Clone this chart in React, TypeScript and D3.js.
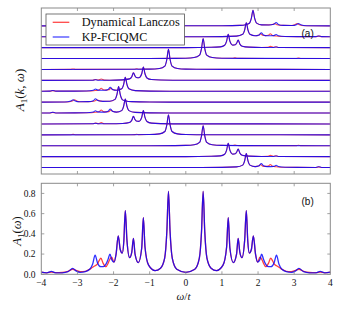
import React from "react";
import * as d3 from "d3";

type Pt = [number, number];

// ---------- axis ticks ----------
const omegaTicks = [-4, -3, -2, -1, 0, 1, 2, 3, 4];
const avgTicks = [0, 0.2, 0.4, 0.6, 0.8];

// ---------- panel (a): A1(k, ω) for each k (KP-FCIQMC = kp, Dynamical Lanczos = lz) ----------
const kpK0: Pt[] = [[-4,0.05],[-2,0.05],[0,0.06],[1,0.1],[1.5,0.2],[1.66,0.4],[1.76,0.85],[1.815,2.45],[1.86,4.9],[1.905,2.45],[1.96,0.9],[2.1,0.35],[2.3,0.3],[2.44,0.55],[2.5,1.1],[2.56,0.5],[2.7,0.2],[2.95,0.15],[3.06,0.4],[3.12,0.8],[3.18,0.4],[3.35,0.1],[4,0.05]];
const lzK0: Pt[] = [[-4,0.05],[-2,0.05],[0,0.06],[1,0.1],[1.5,0.2],[1.66,0.4],[1.76,0.85],[1.815,2.45],[1.86,4.9],[1.905,2.45],[1.96,0.9],[2.1,0.35],[2.3,0.35],[2.4,0.45],[2.46,0.8],[2.52,0.4],[2.7,0.2],[2.92,0.15],[3.02,0.4],[3.08,0.8],[3.14,0.4],[3.3,0.1],[4,0.05]];

const kpK1: Pt[] = [[-4,0.05],[0,0.06],[1,0.1],[1.4,0.25],[1.575,0.8],[1.63,2.2],[1.675,4.4],[1.72,2.2],[1.775,0.8],[1.92,0.35],[2.03,0.6],[2.09,1.3],[2.15,0.6],[2.25,0.35],[2.35,0.35],[2.44,0.4],[2.5,0.75],[2.56,0.35],[2.75,0.12],[3.6,0.08],[3.68,0.3],[3.76,0.08],[4,0.05]];
const lzK1: Pt[] = [[-4,0.05],[0,0.06],[1,0.1],[1.4,0.25],[1.575,0.8],[1.63,2.2],[1.675,4.4],[1.72,2.2],[1.775,0.8],[1.92,0.35],[2.01,0.5],[2.07,1.0],[2.13,0.5],[2.21,0.4],[2.28,0.5],[2.34,1.0],[2.4,0.45],[2.5,0.3],[2.7,0.12],[3.6,0.08],[3.68,0.25],[3.76,0.08],[4,0.05]];

const kpK2: Pt[] = [[-4,0.05],[0,0.07],[0.7,0.15],[0.95,0.3],[1.075,0.8],[1.13,2.1],[1.175,4.2],[1.22,2.1],[1.3,0.85],[1.37,0.95],[1.405,1.4],[1.45,2.4],[1.495,1.2],[1.56,0.5],[1.75,0.2],[2.1,0.1],[2.42,0.1],[2.5,0.25],[2.58,0.1],[4,0.05]];
const lzK2: Pt[] = [[-4,0.05],[0,0.07],[0.7,0.15],[0.95,0.3],[1.075,0.8],[1.13,2.1],[1.175,4.2],[1.22,2.1],[1.3,0.85],[1.37,0.95],[1.405,1.4],[1.45,2.4],[1.495,1.2],[1.56,0.5],[1.75,0.2],[2.1,0.1],[2.26,0.12],[2.34,0.45],[2.42,0.15],[2.5,0.3],[2.58,0.1],[4,0.05]];

const kpK3: Pt[] = [[-4,0.05],[-1,0.07],[-0.3,0.1],[0,0.15],[0.23,0.35],[0.38,1.1],[0.435,3.15],[0.48,6.3],[0.525,3.15],[0.58,1.1],[0.73,0.35],[1.0,0.15],[1.5,0.1],[4,0.05]];
const lzK3: Pt[] = [[-4,0.05],[-1,0.07],[-0.3,0.1],[0,0.15],[0.23,0.35],[0.38,1.1],[0.435,3.15],[0.48,6.3],[0.525,3.15],[0.58,1.1],[0.73,0.35],[1.0,0.15],[1.3,0.12],[1.36,0.25],[1.42,0.12],[1.5,0.1],[3.05,0.08],[3.12,0.2],[3.19,0.08],[4,0.05]];

const kpK4: Pt[] = [[-4,0.05],[-1.5,0.1],[-1.0,0.15],[-0.73,0.35],[-0.58,1.1],[-0.525,3.15],[-0.48,6.3],[-0.435,3.15],[-0.38,1.1],[-0.23,0.35],[0,0.15],[0.3,0.1],[1,0.07],[4,0.05]];
const lzK4: Pt[] = [[-4,0.05],[-3.19,0.08],[-3.12,0.2],[-3.05,0.08],[-1.5,0.1],[-1.42,0.12],[-1.36,0.25],[-1.3,0.12],[-1.0,0.15],[-0.73,0.35],[-0.58,1.1],[-0.525,3.15],[-0.48,6.3],[-0.435,3.15],[-0.38,1.1],[-0.23,0.35],[0,0.15],[0.3,0.1],[1,0.07],[4,0.05]];

const kpK5: Pt[] = [[-4,0.05],[-2.58,0.1],[-2.5,0.25],[-2.42,0.1],[-2.1,0.1],[-1.75,0.2],[-1.56,0.5],[-1.495,1.2],[-1.45,2.4],[-1.405,1.4],[-1.37,0.95],[-1.3,0.85],[-1.22,2.1],[-1.175,4.2],[-1.13,2.1],[-1.075,0.8],[-0.95,0.3],[-0.7,0.15],[0,0.07],[4,0.05]];
const lzK5: Pt[] = [[-4,0.05],[-2.58,0.1],[-2.5,0.3],[-2.42,0.15],[-2.34,0.45],[-2.26,0.12],[-2.1,0.1],[-1.75,0.2],[-1.56,0.5],[-1.495,1.2],[-1.45,2.4],[-1.405,1.4],[-1.37,0.95],[-1.3,0.85],[-1.22,2.1],[-1.175,4.2],[-1.13,2.1],[-1.075,0.8],[-0.95,0.3],[-0.7,0.15],[0,0.07],[4,0.05]];

const kpK6: Pt[] = [[-4,0.05],[-3.76,0.08],[-3.68,0.3],[-3.6,0.08],[-2.75,0.12],[-2.56,0.35],[-2.5,0.75],[-2.44,0.4],[-2.35,0.35],[-2.25,0.35],[-2.15,0.6],[-2.09,1.3],[-2.03,0.6],[-1.92,0.35],[-1.775,0.8],[-1.72,2.2],[-1.675,4.4],[-1.63,2.2],[-1.575,0.8],[-1.4,0.25],[-1,0.1],[0,0.06],[4,0.05]];
const lzK6: Pt[] = [[-4,0.05],[-3.76,0.08],[-3.68,0.25],[-3.6,0.08],[-2.7,0.12],[-2.5,0.3],[-2.4,0.45],[-2.34,1.0],[-2.28,0.5],[-2.21,0.4],[-2.13,0.5],[-2.07,1.0],[-2.01,0.5],[-1.92,0.35],[-1.775,0.8],[-1.72,2.2],[-1.675,4.4],[-1.63,2.2],[-1.575,0.8],[-1.4,0.25],[-1,0.1],[0,0.06],[4,0.05]];

const kpK7: Pt[] = [[-4,0.05],[-3.35,0.1],[-3.18,0.4],[-3.12,0.8],[-3.06,0.4],[-2.95,0.15],[-2.7,0.2],[-2.56,0.5],[-2.5,1.1],[-2.44,0.55],[-2.3,0.3],[-2.1,0.35],[-1.96,0.9],[-1.905,2.45],[-1.86,4.9],[-1.815,2.45],[-1.76,0.85],[-1.66,0.4],[-1.5,0.2],[-1,0.1],[0,0.06],[2,0.05],[4,0.05]];
const lzK7: Pt[] = [[-4,0.05],[-3.3,0.1],[-3.14,0.4],[-3.08,0.8],[-3.02,0.4],[-2.92,0.15],[-2.7,0.2],[-2.52,0.4],[-2.46,0.8],[-2.4,0.45],[-2.3,0.35],[-2.1,0.35],[-1.96,0.9],[-1.905,2.45],[-1.86,4.9],[-1.815,2.45],[-1.76,0.85],[-1.66,0.4],[-1.5,0.2],[-1,0.1],[0,0.06],[2,0.05],[4,0.05]];

const kpRows: Pt[][] = [kpK0, kpK1, kpK2, kpK3, kpK4, kpK5, kpK6, kpK7];
const lzRows: Pt[][] = [lzK0, lzK1, lzK2, lzK3, lzK4, lzK5, lzK6, lzK7];
// k-point shown in each row, top to bottom (k and -k are identical)
const rowK = [0, 1, 2, 3, 4, 5, 6, 7, 6, 5, 4, 3, 2, 1];
const rowStep = 3.4;

// ---------- panel (b): A1(ω) ----------
const omegaAvg = [-4,-3.85,-3.72,-3.6,-3.42,-3.26,-3.13,-3.04,-2.92,-2.78,-2.66,-2.58,-2.51,-2.45,-2.4,-2.35,-2.29,-2.21,-2.15,-2.1,-2.05,-1.99,-1.93,-1.87,-1.815,-1.76,-1.715,-1.675,-1.63,-1.555,-1.495,-1.45,-1.405,-1.315,-1.22,-1.175,-1.13,-1.03,-0.85,-0.7,-0.585,-0.525,-0.48,-0.435,-0.375,-0.25,0,0.25,0.375,0.435,0.48,0.525,0.585,0.7,0.85,1.03,1.13,1.175,1.22,1.315,1.405,1.45,1.495,1.555,1.63,1.675,1.715,1.76,1.815,1.87,1.93,1.99,2.05,2.1,2.15,2.21,2.29,2.35,2.4,2.45,2.51,2.58,2.66,2.78,2.92,3.04,3.13,3.26,3.42,3.6,3.72,3.85,4];
const kpAvg = [0.022,0.015,0.028,0.014,0.015,0.026,0.058,0.034,0.02,0.026,0.05,0.1,0.19,0.12,0.085,0.075,0.075,0.1,0.15,0.2,0.145,0.12,0.2,0.38,0.245,0.21,0.33,0.63,0.34,0.165,0.22,0.355,0.2,0.115,0.26,0.56,0.27,0.09,0.036,0.06,0.16,0.42,0.82,0.42,0.16,0.05,0.02,0.05,0.16,0.42,0.82,0.42,0.16,0.06,0.036,0.09,0.27,0.56,0.26,0.115,0.2,0.355,0.22,0.165,0.34,0.63,0.33,0.21,0.245,0.38,0.2,0.12,0.145,0.2,0.15,0.1,0.075,0.075,0.085,0.12,0.19,0.1,0.05,0.026,0.02,0.034,0.058,0.026,0.015,0.014,0.028,0.015,0.022];
const lzAvg = [0.022,0.015,0.022,0.016,0.018,0.03,0.05,0.04,0.026,0.03,0.05,0.07,0.085,0.1,0.135,0.16,0.11,0.075,0.11,0.15,0.17,0.12,0.2,0.38,0.245,0.21,0.33,0.63,0.34,0.165,0.22,0.355,0.2,0.115,0.26,0.56,0.27,0.09,0.036,0.06,0.16,0.42,0.82,0.42,0.16,0.05,0.02,0.05,0.16,0.42,0.82,0.42,0.16,0.06,0.036,0.09,0.27,0.56,0.26,0.115,0.2,0.355,0.22,0.165,0.34,0.63,0.33,0.21,0.245,0.38,0.2,0.12,0.17,0.15,0.11,0.075,0.11,0.16,0.135,0.1,0.085,0.07,0.05,0.03,0.026,0.04,0.05,0.03,0.018,0.016,0.022,0.015,0.022];

const RED = "#ff1a1a";
const BLUE = "#0000ff";
const SERIF = "'Liberation Serif', 'DejaVu Serif', serif";
const SANS = "'Liberation Sans', Arial, sans-serif";

export default function App() {
  const L = 41.3, R = 330.3;
  const aTop = 8, aBot = 174;
  const bTop = 183.3, bBot = 274.3;

  const x = d3.scaleLinear().domain([-4, 4]).range([L, R]);
  const yA = d3.scaleLinear().domain([0, 13 * rowStep]).range([167.7, 26]);
  const yB = d3.scaleLinear().domain([0, 0.9]).range([bBot, bTop]);

  const rowPath = (pts: Pt[], off: number) =>
    d3.line<Pt>().x((d) => x(d[0])).y((d) => yA(off + d[1])).curve(d3.curveMonotoneX)(pts) || "";

  const avgLine = (vals: number[]) =>
    d3.line<number>().x((_, i) => x(omegaAvg[i])).y((d) => yB(d)).curve(d3.curveMonotoneX)(vals) || "";

  const inner = omegaTicks.slice(1, -1);
  const frame = "#8a8a8a";
  const tl = 3;

  return (
    <svg width={340} height={309} style={{ position: "absolute", left: 0, top: 0, background: "#fff" }}>
      {/* panel (a) curves */}
      <g fill="none">
        {rowK.map((k, i) => {
          const off = (13 - i) * rowStep;
          return (
            <g key={i}>
              <path d={rowPath(lzRows[k], off)} stroke={RED} strokeWidth={1.1} strokeOpacity={0.8} />
              <path d={rowPath(kpRows[k], off)} stroke={BLUE} strokeWidth={1.1} strokeOpacity={0.82} />
            </g>
          );
        })}
      </g>
      {/* panel (a) frame & ticks */}
      <rect x={L} y={aTop} width={R - L} height={aBot - aTop} fill="none" stroke={frame} strokeWidth={1} />
      {inner.map((t) => (
        <g key={"at" + t} stroke={frame} strokeWidth={0.8}>
          <line x1={x(t)} x2={x(t)} y1={aTop} y2={aTop + tl} />
          <line x1={x(t)} x2={x(t)} y1={aBot} y2={aBot - tl} />
        </g>
      ))}
      {/* legend */}
      <rect x={46} y={14} width={138.5} height={31} fill="#fff" stroke="#555" strokeWidth={0.8} />
      <line x1={52.7} x2={69.3} y1={22.3} y2={22.3} stroke={RED} strokeWidth={1.3} strokeOpacity={0.8} />
      <line x1={52.7} x2={69.3} y1={37} y2={37} stroke={BLUE} strokeWidth={1.3} strokeOpacity={0.72} />
      <text x={81.7} y={25.8} fontFamily={SERIF} fontSize={11.5} textLength={98} lengthAdjust="spacingAndGlyphs" fill="#111">Dynamical Lanczos</text>
      <text x={81.7} y={40.6} fontFamily={SERIF} fontSize={11.5} textLength={65.5} lengthAdjust="spacingAndGlyphs" fill="#111">KP-FCIQMC</text>
      <text x={301.5} y={36.6} fontFamily={SANS} fontSize={10} fill="#111">(a)</text>
      {/* panel (a) y label */}
      <text transform="translate(24,90) rotate(-90)" textAnchor="middle" fontFamily={SERIF} fontSize={13} fill="#111">
        <tspan fontStyle="italic">A</tspan>
        <tspan fontSize={9} dy={2.5}>1</tspan>
        <tspan dy={-2.5}>(</tspan>
        <tspan fontStyle="italic">k</tspan>
        <tspan>, </tspan>
        <tspan fontStyle="italic">ω</tspan>
        <tspan>)</tspan>
      </text>

      {/* panel (b) curves */}
      <path d={avgLine(lzAvg)} fill="none" stroke={RED} strokeWidth={1.3} strokeOpacity={0.85} />
      <path d={avgLine(kpAvg)} fill="none" stroke={BLUE} strokeWidth={1.3} strokeOpacity={0.82} />
      <rect x={L} y={bTop} width={R - L} height={bBot - bTop} fill="none" stroke={frame} strokeWidth={1} />
      {inner.map((t) => (
        <g key={"bt" + t} stroke={frame} strokeWidth={0.8}>
          <line x1={x(t)} x2={x(t)} y1={bTop} y2={bTop + tl} />
          <line x1={x(t)} x2={x(t)} y1={bBot} y2={bBot - tl} />
        </g>
      ))}
      {avgTicks.map((t) => (
        <g key={"by" + t}>
          <line x1={L} x2={L + tl} y1={yB(t)} y2={yB(t)} stroke={frame} strokeWidth={0.8} />
          <line x1={R} x2={R - tl} y1={yB(t)} y2={yB(t)} stroke={frame} strokeWidth={0.8} />
          <text x={35.5} y={yB(t) + 3.2} textAnchor="end" fontFamily={SERIF} fontSize={9.5} fill="#111">{t.toFixed(1)}</text>
        </g>
      ))}
      {omegaTicks.map((t) => (
        <text key={"bx" + t} x={x(t)} y={286} textAnchor="middle" fontFamily={SERIF} fontSize={9.5} fill="#111">
          {t < 0 ? "\u2212" + Math.abs(t) : String(t)}
        </text>
      ))}
      <text x={301.5} y={205.3} fontFamily={SANS} fontSize={10} fill="#111">(b)</text>
      <text x={183.5} y={299.5} textAnchor="middle" fontFamily={SERIF} fontSize={11} fill="#111">
        <tspan fontStyle="italic">ω</tspan>
        <tspan>/</tspan>
        <tspan fontStyle="italic">t</tspan>
      </text>
      <text transform="translate(21,231) rotate(-90)" textAnchor="middle" fontFamily={SERIF} fontSize={12.5} fill="#111">
        <tspan fontStyle="italic">A</tspan>
        <tspan fontSize={9} dy={2.5}>1</tspan>
        <tspan dy={-2.5}>(</tspan>
        <tspan fontStyle="italic">ω</tspan>
        <tspan>)</tspan>
      </text>
    </svg>
  );
}
